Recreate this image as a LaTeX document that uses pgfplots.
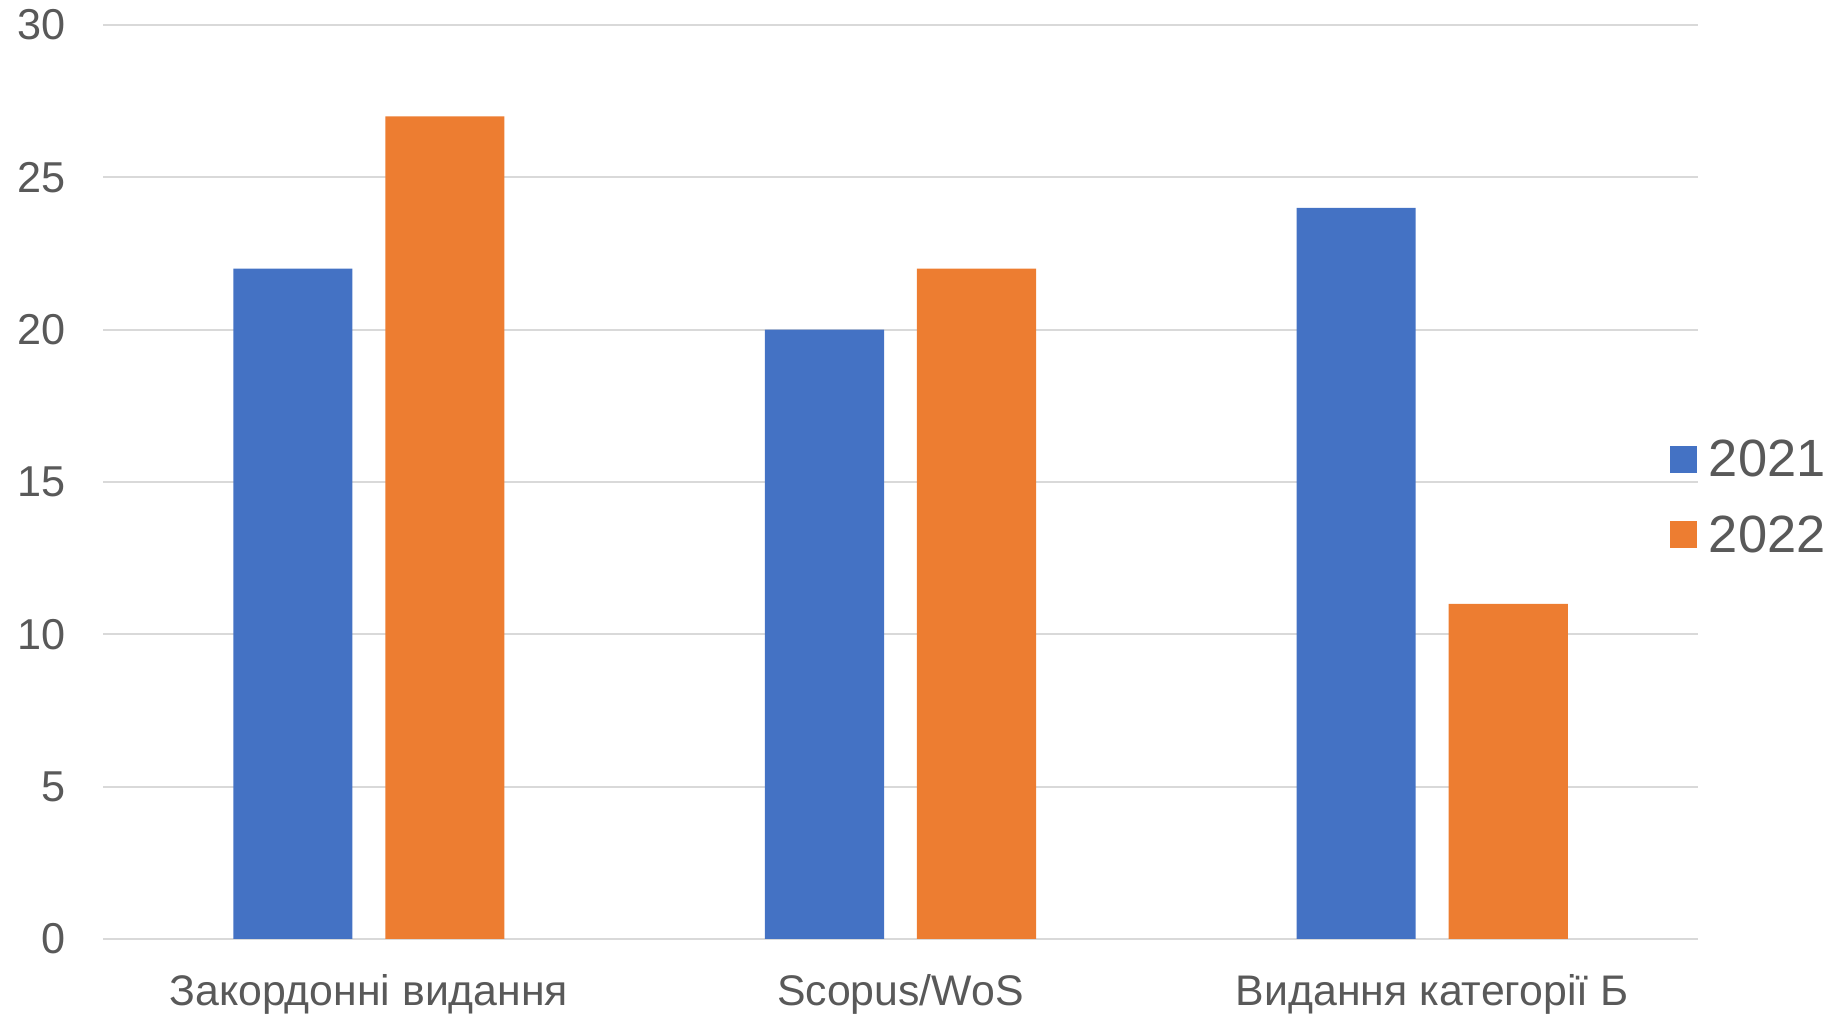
\documentclass[border=0pt]{standalone}
\usepackage{fontspec}
\setmainfont{Liberation Sans}
\usepackage{pgfplots}
\pgfplotsset{compat=1.18}
\definecolor{bblue}{HTML}{4472C4}
\definecolor{borange}{HTML}{ED7D31}
\definecolor{labelgray}{HTML}{595959}
\definecolor{gridgray}{HTML}{D9D9D9}
\begin{document}
\begin{tikzpicture}
\begin{axis}[
    width=398.75pt, height=228.5pt, scale only axis,
    xmin=-0.5, xmax=2.5,
    ymin=0, ymax=30,
    ytick={0,5,...,30},
    xtick={0,1,2},
    xticklabels={Закордонні видання, Scopus/WoS, Видання категорії Б},
    axis line style={draw=none},
    major tick length=0pt,
    ymajorgrids=true,
    grid style={draw=gridgray, line width=0.5pt},
    tick label style={font=\fontsize{10.8}{12}\selectfont, text=labelgray},
    yticklabel style={xshift=-5.75pt},
    xticklabel style={yshift=-5.3pt, font=\fontsize{10.7}{12}\selectfont},
    /pgf/number format/assume math mode=true,
    legend image code/.code={\fill[#1] (0pt,-2.74pt) rectangle (6.75pt,4.01pt);},
    legend style={at={(rel axis cs:0.9824,0.481)}, anchor=west,
        draw=none, fill=none, inner sep=0pt, outer sep=0pt,
        font=\fontsize{13.1}{15}\selectfont, text=labelgray,
        nodes={inner sep=0pt}, column sep=3pt, row sep=8.25pt},
    legend cell align=left,
]
\addplot[ybar, bar width=0.224, bar shift=-0.143, fill=bblue, draw=none]
    coordinates {(0,22) (1,20) (2,24)};
\addplot[ybar, bar width=0.224, bar shift=0.143, fill=borange, draw=none]
    coordinates {(0,27) (1,22) (2,11)};
\legend{2021,2022}
\end{axis}
\pgfresetboundingbox
\path[use as bounding box] ([shift={(-25.75pt,-18.75pt)}]current axis.south west)
    rectangle ([shift={(35.5pt,6.25pt)}]current axis.north east);
\end{tikzpicture}
\end{document}
